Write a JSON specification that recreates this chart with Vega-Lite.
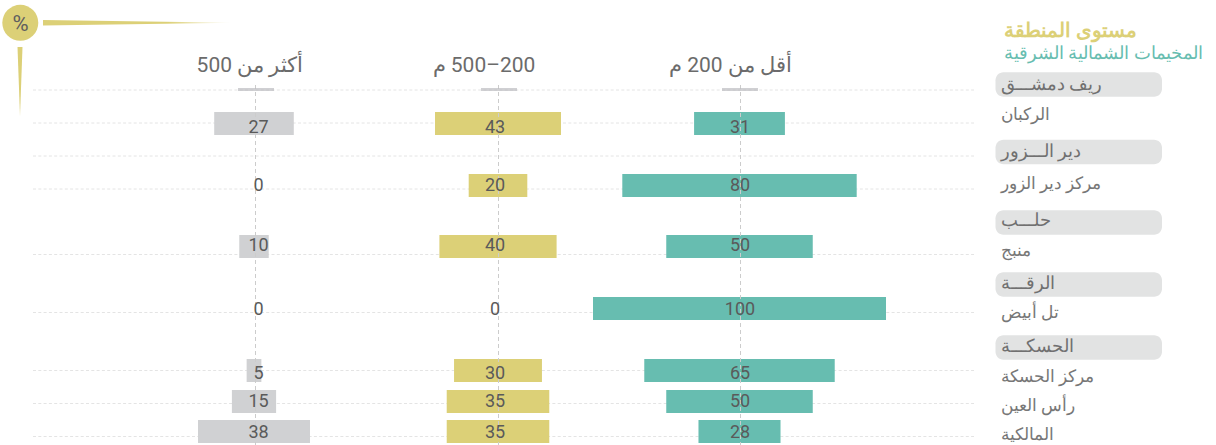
{
"$schema":"https://vega.github.io/schema/vega-lite/v6.json",
"width":1216,"height":445,"padding":0,
"autosize":{"type":"fit","contains":"padding"},
"background":"#ffffff",
"config":{"view":{"stroke":null},"axis":{"disable":true},"legend":{"disable":true},"text":{"font":"Roboto"}},
"datasets":{
"cells":[
{"camp":"الركبان","r":1,"c":1,"value":31},{"camp":"الركبان","r":1,"c":2,"value":43},{"camp":"الركبان","r":1,"c":3,"value":27},
{"camp":"مركز دير الزور","r":2,"c":1,"value":80},{"camp":"مركز دير الزور","r":2,"c":2,"value":20},{"camp":"مركز دير الزور","r":2,"c":3,"value":0},
{"camp":"منبج","r":3,"c":1,"value":50},{"camp":"منبج","r":3,"c":2,"value":40},{"camp":"منبج","r":3,"c":3,"value":10},
{"camp":"تل أبيض","r":4,"c":1,"value":100},{"camp":"تل أبيض","r":4,"c":2,"value":0},{"camp":"تل أبيض","r":4,"c":3,"value":0},
{"camp":"مركز الحسكة","r":5,"c":1,"value":65},{"camp":"مركز الحسكة","r":5,"c":2,"value":30},{"camp":"مركز الحسكة","r":5,"c":3,"value":5},
{"camp":"رأس العين","r":6,"c":1,"value":50},{"camp":"رأس العين","r":6,"c":2,"value":35},{"camp":"رأس العين","r":6,"c":3,"value":15},
{"camp":"المالكية","r":7,"c":1,"value":28},{"camp":"المالكية","r":7,"c":2,"value":35},{"camp":"المالكية","r":7,"c":3,"value":38}
],
"cols":[{"c":1,"name":"أقل من 200 م"},{"c":2,"name":"‫200–500 م‬"},{"c":3,"name":"أكثر من 500"}],
"grid":[{"g":1},{"g":2},{"g":3},{"g":4},{"g":5},{"g":6},{"g":7},{"g":8},{"g":9}],
"regions":[{"i":1,"name":"ريف دمشـــق"},{"i":2,"name":"دير الـــزور"},{"i":3,"name":"حلـــب"},{"i":4,"name":"الرقـــة"},{"i":5,"name":"الحسكـــة"}],
"camps":[{"r":1,"name":"الركبان"},{"r":2,"name":"مركز دير الزور"},{"r":3,"name":"منبج"},{"r":4,"name":"تل أبيض"},{"r":5,"name":"مركز الحسكة"},{"r":6,"name":"رأس العين"},{"r":7,"name":"المالكية"}]
},
"resolve":{"scale":{"x":"independent","y":"independent"}},
"layer":[
{"data":{"name":"grid"},"mark":{"type":"rule","color":"#e4e4e4","strokeWidth":1,"strokeDash":[3,2.3]},
"encoding":{"y":{"field":"g","type":"quantitative","scale":{"domain":[1,2,3,4,5,6,7,8,9],"range":[90,123,156,189,254.5,312.5,370.5,403.5,436.5]}},
"x":{"datum":0,"type":"quantitative","scale":{"domain":[0,1],"range":[33,974]}},"x2":{"datum":1}}},
{"data":{"name":"cells"},"transform":[{"filter":"datum.c===1"}],"mark":{"type":"bar","orient":"horizontal","color":"#67bdb0","size":23},
"encoding":{"x":{"field":"value","type":"quantitative","stack":"center","scale":{"domain":[0,100],"range":[593,886],"padding":0}},
"y":{"field":"r","type":"quantitative","scale":{"domain":[1,2,3,4,5,6,7],"range":[123.5,185.5,246.5,308.5,370.5,401.5,431.5],"padding":0}}}},
{"data":{"name":"cells"},"transform":[{"filter":"datum.c===2"}],"mark":{"type":"bar","orient":"horizontal","color":"#dcd077","size":23},
"encoding":{"x":{"field":"value","type":"quantitative","stack":"center","scale":{"domain":[0,43],"range":[435,561],"padding":0}},
"y":{"field":"r","type":"quantitative","scale":{"domain":[1,2,3,4,5,6,7],"range":[123.5,185.5,246.5,308.5,370.5,401.5,431.5],"padding":0}}}},
{"data":{"name":"cells"},"transform":[{"filter":"datum.c===3"}],"mark":{"type":"bar","orient":"horizontal","color":"#d0d1d3","size":23},
"encoding":{"x":{"field":"value","type":"quantitative","stack":"center","scale":{"domain":[0,38],"range":[198,310],"padding":0}},
"y":{"field":"r","type":"quantitative","scale":{"domain":[1,2,3,4,5,6,7],"range":[123.5,185.5,246.5,308.5,370.5,401.5,431.5],"padding":0}}}},
{"data":{"name":"cols"},"mark":{"type":"rule","color":"#cccccc","strokeWidth":1,"strokeDash":[4,3]},
"encoding":{"x":{"field":"c","type":"quantitative","scale":{"domain":[1,2,3],"range":[740.5,498.5,255.5]}},
"y":{"datum":0,"type":"quantitative","scale":{"domain":[0,1],"range":[85,445]}},"y2":{"datum":1}}},
{"data":{"name":"cols"},"mark":{"type":"tick","orient":"horizontal","color":"#bcbcc0","size":36,"thickness":3},
"encoding":{"x":{"field":"c","type":"quantitative","scale":{"domain":[1,2,3],"range":[740,499,256]}},
"y":{"datum":0,"type":"quantitative","scale":{"domain":[0,1],"range":[89.5,200]}}}},
{"data":{"name":"cols"},"mark":{"type":"text","color":"#6b6b6b","fontSize":21,"baseline":"middle","align":"center","font":"Roboto"},
"encoding":{"text":{"field":"name"},"x":{"field":"c","type":"quantitative","scale":{"domain":[1,2,3],"range":[730.5,484,250]}},
"y":{"datum":0,"type":"quantitative","scale":{"domain":[0,1],"range":[66,200]}}}},
{"data":{"name":"cells"},"mark":{"type":"text","color":"#5a5a5a","fontSize":18,"baseline":"middle","align":"center","font":"Roboto"},
"encoding":{"text":{"field":"value","type":"quantitative"},
"x":{"field":"c","type":"quantitative","scale":{"domain":[1,2,3],"range":[740,495,258.5]}},
"y":{"field":"r","type":"quantitative","scale":{"domain":[1,2,3,4,5,6,7],"range":[128,186,245.5,310,373.5,402,433]}}}},
{"data":{"name":"regions"},"mark":{"type":"bar","orient":"horizontal","color":"#e2e3e3","size":24.5,"cornerRadius":8},
"encoding":{"x":{"datum":0,"type":"quantitative","scale":{"domain":[0,1],"range":[995.5,1162],"padding":0}},"x2":{"datum":1},
"y":{"field":"i","type":"quantitative","scale":{"domain":[1,2,3,4,5],"range":[84.5,152,222.5,284.5,347.5],"padding":0}}}},
{"data":{"name":"regions"},"mark":{"type":"text","color":"#707070","fontSize":18,"baseline":"middle","align":"left"},
"encoding":{"text":{"field":"name"},"x":{"datum":0,"type":"quantitative","scale":{"domain":[0,1],"range":[1001,1100]}},
"y":{"field":"i","type":"quantitative","scale":{"domain":[1,2,3,4,5],"range":[85,152,221,284,347]}}}},
{"data":{"name":"camps"},"mark":{"type":"text","color":"#777777","fontSize":16.5,"baseline":"middle","align":"left"},
"encoding":{"text":{"field":"name"},"x":{"datum":0,"type":"quantitative","scale":{"domain":[0,1],"range":[1001,1100]}},
"y":{"field":"r","type":"quantitative","scale":{"domain":[1,2,3,4,5,6,7],"range":[115,184,251,313,377,406,435]}}}},
{"data":{"values":[{"name":"مستوى المنطقة"}]},"mark":{"type":"text","fontSize":20,"fontWeight":"bold","color":"#dcd077","baseline":"middle","align":"left"},
"encoding":{"text":{"field":"name"},
"x":{"datum":0,"type":"quantitative","scale":{"domain":[0,1],"range":[1004,1100]}},
"y":{"datum":0,"type":"quantitative","scale":{"domain":[0,1],"range":[31,200]}}}},
{"data":{"values":[{"name":"المخيمات الشمالية الشرقية"}]},"mark":{"type":"text","fontSize":18,"color":"#67bdb0","baseline":"middle","align":"left"},
"encoding":{"text":{"field":"name"},
"x":{"datum":0,"type":"quantitative","scale":{"domain":[0,1],"range":[1004,1100]}},
"y":{"datum":0,"type":"quantitative","scale":{"domain":[0,1],"range":[54,200]}}}},
{"data":{"values":[{"t":0,"a":-2.75,"b":2.75},{"t":1,"a":0,"b":0}]},"mark":{"type":"area","color":{"gradient":"linear","x1":0,"y1":0,"x2":1,"y2":0,"stops":[{"offset":0,"color":"#dcd077"},{"offset":0.65,"color":"#dcd077"},{"offset":1,"color":"#ffffff"}]}},
"encoding":{"x":{"field":"t","type":"quantitative","scale":{"domain":[0,1],"range":[43,234]}},
"y":{"field":"a","type":"quantitative","scale":{"domain":[-2.75,2.75],"range":[20,25.5]}},"y2":{"field":"b"}}},
{"data":{"values":[{"t":0,"a":-2.5,"b":2.5},{"t":1,"a":0,"b":0}]},"mark":{"type":"area","orient":"horizontal","color":"#dcd077"},
"encoding":{"y":{"field":"t","type":"quantitative","scale":{"domain":[0,1],"range":[47,116]}},
"x":{"field":"a","type":"quantitative","scale":{"domain":[-2.5,2.5],"range":[17.5,22.5]}},"x2":{"field":"b"}}},
{"data":{"values":[{"icon":"%"}]},"mark":{"type":"circle","color":"#dcd077","opacity":1,"size":1296},
"encoding":{"x":{"datum":0,"type":"quantitative","scale":{"domain":[0,1],"range":[20.3,200]}},
"y":{"datum":0,"type":"quantitative","scale":{"domain":[0,1],"range":[22.8,200]}}}},
{"data":{"values":[{"icon":"%"}]},"mark":{"type":"text","color":"#5f5f5f","fontSize":22,"baseline":"middle","align":"center","font":"Roboto"},
"encoding":{"text":{"field":"icon"},"x":{"datum":0,"type":"quantitative","scale":{"domain":[0,1],"range":[20.5,200]}},
"y":{"datum":0,"type":"quantitative","scale":{"domain":[0,1],"range":[24,200]}}}}
]
}
